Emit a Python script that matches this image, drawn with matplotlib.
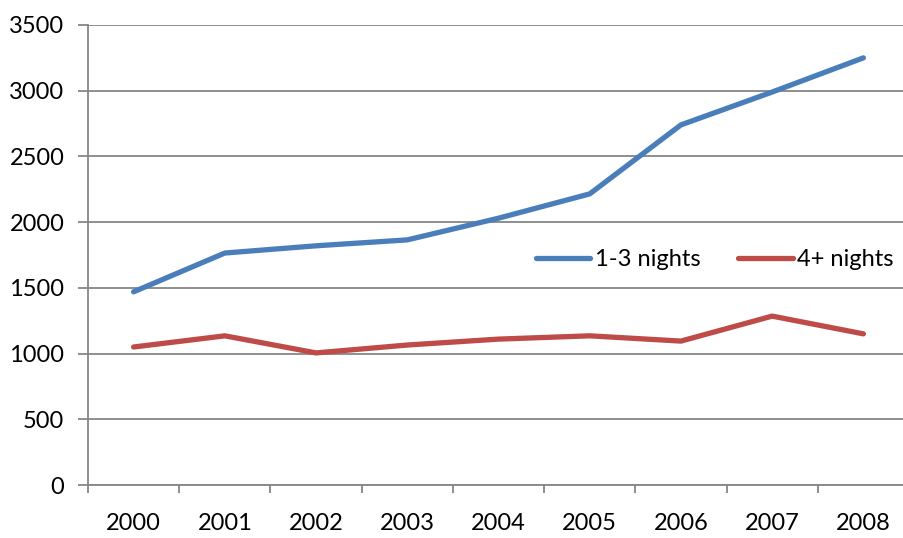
import matplotlib.pyplot as plt
import numpy as np

# data
years = ['2000', '2001', '2002', '2003', '2004', '2005', '2006', '2007', '2008']
short_stays = [1470, 1765, 1820, 1865, 2030, 2215, 2740, 2990, 3250]
long_stays = [1050, 1135, 1005, 1065, 1110, 1135, 1095, 1285, 1150]
y_ticks = [0, 500, 1000, 1500, 2000, 2500, 3000, 3500]

plt.rcParams['font.family'] = ['Lato', 'DejaVu Sans']

fig = plt.figure(figsize=(9.04, 5.38), dpi=100)
ax = fig.add_axes([88 / 904, 1 - 485 / 538, (909 - 88) / 904, 460 / 538])

x = np.arange(len(years)) + 0.5
grid_col = '#868686'

ax.plot(x, short_stays, color='#4A7EBB', linewidth=3.8, label='1-3 nights',
        solid_capstyle='round', solid_joinstyle='round')
ax.plot(x, long_stays, color='#BE4B48', linewidth=3.8, label='4+ nights',
        solid_capstyle='round', solid_joinstyle='round')

ax.set_xlim(0, len(years))
ax.set_ylim(0, 3500)
ax.set_yticks(y_ticks)
ax.set_yticklabels([str(v) for v in y_ticks])
ax.yaxis.grid(True, color=grid_col, linewidth=1.3)
ax.set_axisbelow(True)

# category ticks at boundaries, labels at centres
ax.set_xticks(np.arange(len(years) + 1))
ax.set_xticklabels([])
ax.set_xticks(x, minor=True)
ax.set_xticklabels(years, minor=True)
ax.tick_params(axis='x', which='minor', length=0, pad=20, labelsize=17)
ax.tick_params(axis='x', which='major', direction='out', length=6,
               color=grid_col, width=1.3)
ax.tick_params(axis='y', direction='out', length=7, color=grid_col,
               width=1.3, pad=10, labelsize=17)

for side in ['top', 'right']:
    ax.spines[side].set_visible(False)
for side in ['left', 'bottom']:
    ax.spines[side].set_color(grid_col)
    ax.spines[side].set_linewidth(1.3)

ax.legend(loc='center', bbox_to_anchor=(715 / 904, 1 - 260 / 538),
          bbox_transform=fig.transFigure, ncol=2, frameon=False,
          fontsize=17, handlelength=2.3, handletextpad=0.2,
          columnspacing=1.6, borderpad=0, borderaxespad=0)

fig.savefig('out.png', dpi=100)
